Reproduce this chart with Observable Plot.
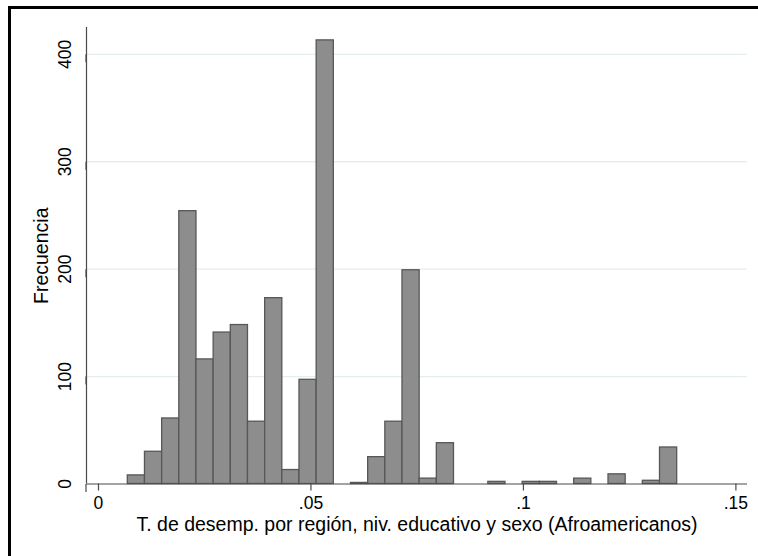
<!DOCTYPE html>
<html>
<head>
<meta charset="utf-8">
<script src="https://cdn.jsdelivr.net/npm/d3@7"></script>
<script src="https://cdn.jsdelivr.net/npm/@observablehq/plot@0.6"></script>
<style>
  html, body { margin: 0; padding: 0; background: #fff; overflow: hidden; }
  #wrap { position: relative; width: 758px; height: 556px; }
  #frame { position: absolute; left: 8px; top: 6px; width: 800px; height: 600px;
           border-left: 3px solid #000; border-top: 3px solid #000; box-sizing: border-box; }
  #chart { position: absolute; left: 0; top: 0; }
</style>
</head>
<body>
<div id="wrap"><div id="frame"></div><div id="chart"></div></div>
<script>
// Histogram data
const binStart = 0.0069;
const binWidth = 0.00404;
const counts = [8, 30, 61, 254, 116, 141, 148, 58, 173, 13, 97, 413, 0, 1, 25, 58,
                199, 5, 38, 0, 0, 2, 0, 2, 2, 0, 5, 0, 9, 0, 3, 34];
const xTicks = [0, 0.05, 0.1, 0.15];
const xTickLabels = ["0", ".05", ".1", ".15"];
const yTicks = [0, 100, 200, 300, 400];
const xDomain = [-0.00282, 0.15273];
const yDomain = [0, 425];
const xTitle = "T. de desemp. por región, niv. educativo y sexo (Afroamericanos)";
const yTitle = "Frecuencia";

const bins = counts.map((n, i) => ({
  x1: binStart + i * binWidth,
  x2: binStart + (i + 1) * binWidth,
  n
})).filter(d => d.n > 0);

const font = "'Liberation Sans', Arial, sans-serif";

const chart = Plot.plot({
  width: 758,
  height: 556,
  marginLeft: 86,
  marginRight: 11,
  marginTop: 27,
  marginBottom: 72.5,
  style: { fontFamily: font, background: "transparent", color: "#000" },
  x: { domain: xDomain },
  y: { domain: yDomain },
  marks: [
    Plot.gridY(yTicks.filter(d => d > 0), { stroke: "#e4eef0", strokeOpacity: 1, strokeWidth: 1.3 }),
    Plot.rectY(bins, { x1: "x1", x2: "x2", y: "n", fill: "#8d8d8d", stroke: "#575757", strokeWidth: 1.3 }),
    Plot.ruleX([xDomain[0]], { stroke: "#4a4a4a", strokeWidth: 1.2 }),
    Plot.ruleY([0], { stroke: "#4a4a4a", strokeWidth: 1.2 }),
    Plot.axisX(xTicks, {
      tickSize: 7, tickPadding: 6, stroke: "#4a4a4a", strokeWidth: 1.2,
      tickFormat: (d) => xTickLabels[xTicks.indexOf(d)],
      fontSize: 17.5, fill: "#000", label: null
    }),
    Plot.axisY(yTicks, {
      tickSize: 8, tickPadding: 8, stroke: "#4a4a4a", strokeWidth: 1.2,
      rotate: -90, textAnchor: "middle", lineAnchor: "bottom",
      fontSize: 17.5, fill: "#000", label: null
    }),
    Plot.text([xTitle], { frameAnchor: "bottom", textAnchor: "middle", lineAnchor: "bottom", dy: 47, fontSize: 19.5, fill: "#000" }),
    Plot.text([yTitle], { frameAnchor: "left", textAnchor: "middle", rotate: -90, lineAnchor: "bottom", dx: -39, fontSize: 19.5, fill: "#000" })
  ]
});
document.getElementById("chart").appendChild(chart);
</script>
</body>
</html>
